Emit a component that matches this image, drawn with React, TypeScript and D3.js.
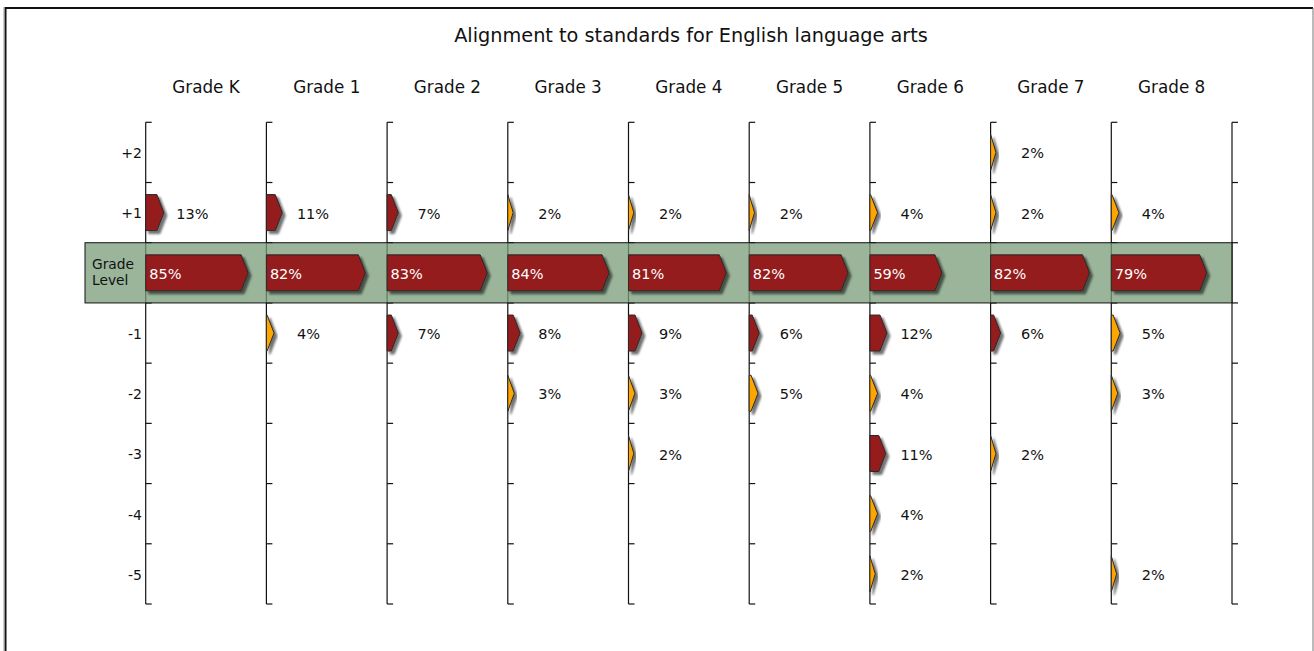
import React from "react";
import * as d3 from "d3";

const title = "Alignment to standards for English language arts";
const grades = ["Grade K", "Grade 1", "Grade 2", "Grade 3", "Grade 4", "Grade 5", "Grade 6", "Grade 7", "Grade 8"];
const rowLabels = ["+2", "+1", "Grade Level", "-1", "-2", "-3", "-4", "-5"];

// percentage of standards at grade level (main band)
const gradeLevel = [85, 82, 83, 84, 81, 82, 59, 82, 79];
// off-grade rows
const plus2 = [null, null, null, null, null, null, null, 2, null];
const plus1 = [13, 11, 7, 2, 2, 2, 4, 2, 4];
const minus1 = [null, 4, 7, 8, 9, 6, 12, 6, 5];
const minus2 = [null, null, null, 3, 3, 5, 4, null, 3];
const minus3 = [null, null, null, null, 2, null, 11, 2, null];
const minus4 = [null, null, null, null, null, null, 4, null, null];
const minus5 = [null, null, null, null, null, null, 2, null, 2];

const offRows: [string, (number | null)[]][] = [
  ["+2", plus2],
  ["+1", plus1],
  ["-1", minus1],
  ["-2", minus2],
  ["-3", minus3],
  ["-4", minus4],
  ["-5", minus5],
];

const RED = "#941a1a";
const ORANGE = "#ffa500";
const FONT = "Verdana, 'DejaVu Sans', sans-serif";

function arrowPath(x0: number, yc: number, W: number, h: number) {
  const tip = Math.min(7, W);
  const p = d3.path();
  p.moveTo(x0, yc - h / 2);
  p.lineTo(x0 + W - tip, yc - h / 2);
  p.lineTo(x0 + W, yc);
  p.lineTo(x0 + W - tip, yc + h / 2);
  p.lineTo(x0, yc + h / 2);
  p.closePath();
  return p.toString();
}

export default function App() {
  const x = d3.scaleBand<string>().domain(grades).range([145.7, 1232]);
  const y = d3.scaleBand<string>().domain(rowLabels).range([122.3, 604]);
  const w = d3.scaleLinear().domain([0, 100]).range([3, 120]);
  const colW = x.bandwidth();
  const rowH = y.bandwidth();
  const barH = 36;
  const axesX = [...grades.map((g) => x(g)!), 1232];
  const boundaries = d3.range(rowLabels.length + 1).map((i) => 122.3 + i * rowH);
  const bandTop = y("Grade Level")!;
  const bandC = bandTop + rowH / 2;

  return (
    <div style={{ position: "fixed", left: 0, top: 0, width: 1314, height: 651, background: "#fff" }}>
      <svg width={1314} height={651} style={{ display: "block" }} fontFamily={FONT}>
        <defs>
          <filter id="sh" x="-20%" y="-20%" width="160%" height="160%">
            <feDropShadow dx={3} dy={3} stdDeviation={1.2} floodColor="#000" floodOpacity={0.55} />
          </filter>
        </defs>
        {/* frame */}
        <line x1={5} x2={1313} y1={8} y2={8} stroke="#111" strokeWidth={2} />
        <line x1={5.5} x2={5.5} y1={7} y2={651} stroke="#111" strokeWidth={2} />
        <line x1={4} x2={4} y1={7} y2={651} stroke="#999" strokeWidth={1} />
        <line x1={1313} x2={1313} y1={8} y2={651} stroke="#777" strokeWidth={1} />

        <text x={691} y={42.3} textAnchor="middle" fontSize={19.3} fill="#111">
          {title}
        </text>

        {grades.map((g) => (
          <text key={g} x={x(g)! + colW / 2} y={92.7} textAnchor="middle" fontSize={16.8} fill="#111">
            {g}
          </text>
        ))}

        {/* axes */}
        {axesX.map((ax, i) => (
          <g key={i}>
            <line x1={ax} x2={ax} y1={boundaries[0]} y2={boundaries[boundaries.length - 1]} stroke="#111" strokeWidth={1.2} />
            {boundaries.map((b, j) => (
              <line key={j} x1={ax} x2={ax + 6} y1={b} y2={b} stroke="#111" strokeWidth={1.2} />
            ))}
          </g>
        ))}

        {/* grade-level band */}
        <rect x={85} y={bandTop} width={1232 - 85} height={rowH} fill="#789c78" fillOpacity={0.75} />
        <rect x={85} y={bandTop} width={1232 - 85} height={rowH} fill="none" stroke="#111" strokeWidth={1} />
        <text x={92} y={269.3} fontSize={13.8} fill="#111">Grade</text>
        <text x={92} y={285} fontSize={13.8} fill="#111">Level</text>

        {/* row labels */}
        {offRows.map(([r]) => (
          <text key={r} x={142} y={y(r)! + rowH / 2} dy="0.42em" textAnchor="end" fontSize={14} fill="#111">
            {r}
          </text>
        ))}

        {/* main bars */}
        {grades.map((g, i) => (
          <g key={g}>
            <path d={arrowPath(x(g)!, bandC, w(gradeLevel[i]), barH)} fill={RED} stroke="#2a2a2a" strokeWidth={1} filter="url(#sh)" />
            <text x={x(g)! + 3.5} y={bandC} dy="0.42em" fontSize={14.5} fill="#fff">
              {gradeLevel[i]}%
            </text>
          </g>
        ))}

        {/* off-grade bars */}
        {offRows.map(([r, vals]) =>
          vals.map((v, i) => {
            if (v == null) return null;
            const g = grades[i];
            const yc = y(r)! + rowH / 2;
            return (
              <g key={r + g}>
                <path d={arrowPath(x(g)!, yc, w(v), barH)} fill={v >= 6 ? RED : ORANGE} stroke="#2a2a2a" strokeWidth={1} filter="url(#sh)" />
                <text x={x(g)! + 30.5} y={yc} dy="0.42em" fontSize={14.5} fill="#111">
                  {v}%
                </text>
              </g>
            );
          })
        )}
      </svg>
    </div>
  );
}
